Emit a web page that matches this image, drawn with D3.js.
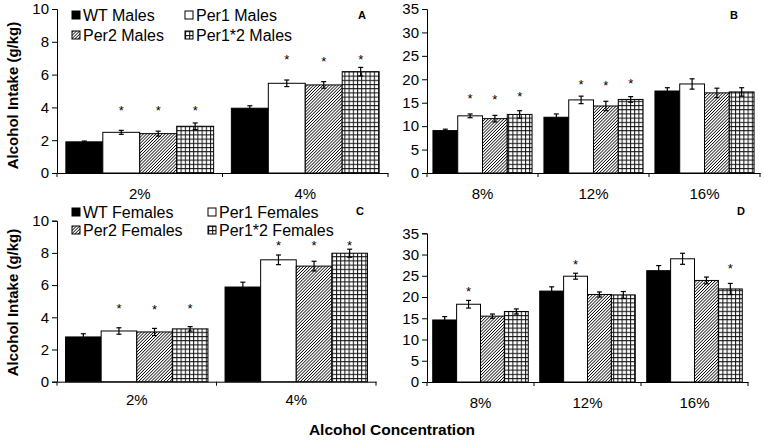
<!DOCTYPE html>
<html>
<head>
<meta charset="utf-8">
<script src="https://cdn.jsdelivr.net/npm/d3@7"></script>
<style>
  body { margin: 0; background: #fff; }
  svg { display: block; font-family: "Liberation Sans", Arial, sans-serif; }
</style>
</head>
<body>
<div id="chart"></div>
<script>
// genotypes and concentrations
const genotypes = ["WT", "Per1", "Per2", "Per1*2"];
const lowConc = ["2%", "4%"];
const highConc = ["8%", "12%", "16%"];
const lowTicks = [0, 2, 4, 6, 8, 10];
const highTicks = [0, 5, 10, 15, 20, 25, 30, 35];

// A: males, low concentrations (rows = concentration, cols = genotype)
const maleLowMean = [[1.9, 2.48, 2.4, 2.85], [3.95, 5.47, 5.37, 6.18]];
const maleLowSem = [[0.05, 0.12, 0.15, 0.2], [0.15, 0.2, 0.2, 0.26]];
const maleLowStar = [[null, 3.95, 3.95, 3.95], [null, 7.05, 6.95, 7.1]];

// B: males, high concentrations
const maleHighMean = [[9.05, 12.2, 11.6, 12.5], [11.9, 15.6, 14.3, 15.7], [17.5, 19.0, 17.1, 17.3]];
const maleHighSem = [[0.3, 0.4, 0.7, 0.8], [0.7, 0.8, 1.0, 0.6], [0.7, 1.1, 1.0, 0.9]];
const maleHighStar = [[null, 16.4, 16.3, 16.8], [null, 19.4, 19.2, 19.7], [null, null, null, null]];

// C: females, low concentrations
const femaleLowMean = [[2.78, 3.15, 3.09, 3.28], [5.88, 7.57, 7.18, 7.98]];
const femaleLowSem = [[0.2, 0.2, 0.22, 0.14], [0.3, 0.3, 0.3, 0.25]];
const femaleLowStar = [[null, 4.7, 4.65, 4.7], [null, 8.6, 8.6, 8.6]];

// D: females, high concentrations
const femaleHighMean = [[14.6, 18.3, 15.5, 16.6], [21.4, 24.9, 20.6, 20.5], [26.2, 29.0, 23.9, 21.9]];
const femaleHighSem = [[0.8, 0.9, 0.5, 0.6], [1.0, 0.7, 0.6, 0.8], [1.2, 1.3, 0.8, 1.3]];
const femaleHighStar = [[null, 21.8, null, null], [null, 28.3, null, null], [null, null, null, 27.4]];

const maleLegend = ["WT Males", "Per1 Males", "Per2 Males", "Per1*2 Males"];
const femaleLegend = ["WT Females", "Per1 Females", "Per2 Females", "Per1*2 Females"];

const width = 764, height = 440;
const svg = d3.select("#chart").append("svg")
  .attr("width", width)
  .attr("height", height);

// fill patterns
const defs = svg.append("defs");
const hatch = defs.append("pattern")
  .attr("id", "hatch")
  .attr("patternUnits", "userSpaceOnUse")
  .attr("width", 2.2).attr("height", 2.2)
  .attr("patternTransform", "rotate(45)");
hatch.append("rect").attr("width", 2.2).attr("height", 2.2).attr("fill", "#fff");
hatch.append("line").attr("x1", 0).attr("y1", 0).attr("x2", 0).attr("y2", 2.2)
  .attr("stroke", "#000").attr("stroke-width", 1.5);

const grid = defs.append("pattern")
  .attr("id", "grid")
  .attr("patternUnits", "userSpaceOnUse")
  .attr("width", 4.2).attr("height", 4.2);
grid.append("rect").attr("width", 4.2).attr("height", 4.2).attr("fill", "#fff");
grid.append("path").attr("d", "M0,0.5H4.2M0.5,0V4.2")
  .attr("stroke", "#111").attr("stroke-width", 1).attr("fill", "none");

const fills = ["#000", "#fff", "url(#hatch)", "url(#grid)"];

function drawPanel(p) {
  const g = svg.append("g");

  const y = d3.scaleLinear().domain([0, p.maxY]).range([p.bottom, p.top]);
  const x = d3.scaleBand().domain(p.cats).range([p.left, p.right]);
  const xi = d3.scaleBand().domain(genotypes).range([0, x.bandwidth()]).paddingOuter(0.24);

  // y axis
  const yAxis = g.append("g")
    .attr("transform", `translate(${p.left},0)`)
    .call(d3.axisLeft(y).tickValues(p.ticks).tickSizeOuter(0).tickSize(5).tickPadding(3));
  yAxis.selectAll("text").style("font-size", "15px").attr("fill", "#000").attr("font-family", "Liberation Sans");
  yAxis.selectAll("line, path").attr("stroke", "#000");

  // x axis with labels under the categories
  const xAxis = g.append("g")
    .attr("transform", `translate(0,${p.bottom})`)
    .call(d3.axisBottom(x).tickSize(0).tickSizeOuter(0).tickPadding(p.labelPad));
  xAxis.selectAll("text").style("font-size", "15px").attr("fill", "#000").attr("font-family", "Liberation Sans");
  xAxis.select(".domain").attr("stroke", "#000");

  // ticks between categories
  const bounds = p.cats.map(c => x(c)).concat([x.range()[1]]);
  g.selectAll(".sep").data(bounds).join("line")
    .attr("x1", d => d).attr("x2", d => d)
    .attr("y1", p.bottom).attr("y2", p.bottom + 4)
    .attr("stroke", "#000");

  // bars
  const rows = [];
  p.cats.forEach((c, ci) => {
    genotypes.forEach((gt, gi) => {
      rows.push({
        cat: c, gt: gt, gi: gi,
        mean: p.mean[ci][gi], sem: p.sem[ci][gi], star: p.star[ci][gi]
      });
    });
  });

  g.selectAll(".bar").data(rows).join("rect")
    .attr("x", d => x(d.cat) + xi(d.gt))
    .attr("y", d => y(d.mean))
    .attr("width", xi.bandwidth())
    .attr("height", d => y(0) - y(d.mean))
    .attr("fill", d => fills[d.gi])
    .attr("stroke", "#000")
    .attr("stroke-width", 1);

  // error bars
  const cx = d => x(d.cat) + xi(d.gt) + xi.bandwidth() / 2;
  const eb = g.selectAll(".err").data(rows).join("g").attr("stroke", "#000").attr("stroke-width", 1.2);
  eb.append("line")
    .attr("x1", cx).attr("x2", cx)
    .attr("y1", d => y(d.mean - d.sem)).attr("y2", d => y(d.mean + d.sem));
  eb.append("line")
    .attr("x1", d => cx(d) - 2.5).attr("x2", d => cx(d) + 2.5)
    .attr("y1", d => y(d.mean + d.sem)).attr("y2", d => y(d.mean + d.sem));
  eb.append("line")
    .attr("x1", d => cx(d) - 2.5).attr("x2", d => cx(d) + 2.5)
    .attr("y1", d => y(d.mean - d.sem)).attr("y2", d => y(d.mean - d.sem));

  // significance stars
  g.selectAll(".star").data(rows.filter(d => d.star != null)).join("text")
    .attr("x", cx)
    .attr("y", d => y(d.star) + 7)
    .attr("text-anchor", "middle")
    .style("font-size", "13px")
    .text("*");

  // panel letter
  g.append("text")
    .attr("x", p.letterX).attr("y", p.letterY)
    .attr("text-anchor", "middle")
    .style("font-size", "11px")
    .style("font-weight", "bold")
    .text(p.letter);

  // legend, two columns
  if (p.legend) {
    const lg = g.selectAll(".leg").data(p.legend).join("g")
      .attr("transform", (d, i) => `translate(${p.legX[i % 2]},${p.legY[Math.floor(i / 2)]})`);
    lg.append("rect")
      .attr("x", 0).attr("y", -4).attr("width", 8).attr("height", 8)
      .attr("fill", (d, i) => fills[i])
      .attr("stroke", "#000").attr("stroke-width", 1);
    lg.append("text")
      .attr("x", p.legGap).attr("y", 5.8)
      .style("font-size", "16px")
      .text(d => d);
  }
}

drawPanel({
  left: 57, right: 388, top: 9, bottom: 173, maxY: 10, ticks: lowTicks,
  cats: lowConc, mean: maleLowMean, sem: maleLowSem, star: maleLowStar,
  labelPad: 15, letter: "A", letterX: 362, letterY: 18.5,
  legend: maleLegend, legX: [72, 185], legY: [15, 35], legGap: 11
});
drawPanel({
  left: 427, right: 760, top: 9, bottom: 173, maxY: 35, ticks: highTicks,
  cats: highConc, mean: maleHighMean, sem: maleHighSem, star: maleHighStar,
  labelPad: 15, letter: "B", letterX: 734, letterY: 18.5
});
drawPanel({
  left: 57, right: 376, top: 220.7, bottom: 381.7, maxY: 10, ticks: lowTicks,
  cats: lowConc, mean: femaleLowMean, sem: femaleLowSem, star: femaleLowStar,
  labelPad: 13, letter: "C", letterX: 360, letterY: 215,
  legend: femaleLegend, legX: [72, 208], legY: [212, 230], legGap: 11
});
drawPanel({
  left: 427, right: 748, top: 233.3, bottom: 382, maxY: 35, ticks: highTicks,
  cats: highConc, mean: femaleHighMean, sem: femaleHighSem, star: femaleHighStar,
  labelPad: 15, letter: "D", letterX: 741, letterY: 214.5
});

// shared axis titles
[95.5, 302.5].forEach(cy => {
  svg.append("text")
    .attr("transform", `translate(18,${cy}) rotate(-90)`)
    .attr("text-anchor", "middle")
    .style("font-size", "15px")
    .style("font-weight", "bold")
    .text("Alcohol Intake (g/kg)");
});

svg.append("text")
  .attr("x", 392).attr("y", 435)
  .attr("text-anchor", "middle")
  .style("font-size", "15.5px")
  .style("font-weight", "bold")
  .text("Alcohol Concentration");
</script>
</body>
</html>
